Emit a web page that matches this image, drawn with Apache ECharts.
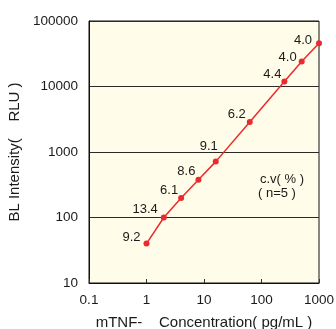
<!DOCTYPE html>
<html>
<head>
<meta charset="utf-8">
<script src="https://cdn.jsdelivr.net/npm/echarts@6/dist/echarts.min.js"></script>
<style>
  html, body { margin: 0; padding: 0; background: #fff; }
  #chart { width: 336px; height: 329px; }
</style>
</head>
<body>
<div id="chart"></div>
<script>
// concentration (pg/mL) vs BL intensity (RLU), c.v. in %
const concentration = [1, 2, 4, 8, 16, 62.5, 250, 500, 1000];
const intensity = [40, 100, 198, 377, 713, 2880, 11900, 24150, 45800];
const cvLabels = ['9.2', '13.4', '6.1', '8.6', '9.1', '6.2', '4.4', '4.0', '4.0'];
const xTickLabels = ['0.1', '1', '10', '100', '1000'];
const yTickLabels = ['10', '100', '1000', '10000', '100000'];

const font = 'Liberation Sans, Arial, sans-serif';
const red = '#ec2a2e';

// label nudges so each c.v. value sits up-left of its point
const labelOffsets = [
  [0, -6], [0, -8], [3, -8], [3, -8], [8, -15],
  [2, -7], [3, -7], [1, -4], [-1, -3]
];

const chart = echarts.init(document.getElementById('chart'));

const tickFmt = (labels, minExp) => (v) => {
  const i = Math.round(Math.log10(v)) - minExp;
  return labels[i] !== undefined ? labels[i] : '';
};

chart.setOption({
  animation: false,
  grid: {
    left: 89, right: 17, top: 21, bottom: 46,
    outerBoundsMode: 'none',
    containLabel: false,
    show: true,
    backgroundColor: '#fffce9',
    borderColor: '#111',
    borderWidth: 1
  },
  xAxis: {
    type: 'log',
    logBase: 10,
    min: 0.1,
    max: 1000,
    name: 'mTNF-    Concentration( pg/mL )',
    nameLocation: 'middle',
    nameGap: 32,
    nameTextStyle: { fontFamily: font, fontSize: 15, color: '#1a1a1a' },
    axisLine: { lineStyle: { color: '#111' } },
    axisTick: { show: true, inside: true, length: 4, lineStyle: { color: '#333' } },
    axisLabel: {
      formatter: tickFmt(xTickLabels, -1),
      fontFamily: font, fontSize: 13.5, color: '#1a1a1a', margin: 10
    },
    splitLine: { show: false }
  },
  yAxis: {
    type: 'log',
    logBase: 10,
    min: 10,
    max: 100000,
    name: 'BL Intensity(    RLU )',
    nameLocation: 'middle',
    nameGap: 60,
    nameRotate: 90,
    nameTextStyle: { fontFamily: font, fontSize: 15, color: '#1a1a1a' },
    axisLine: { lineStyle: { color: '#111' } },
    axisTick: { show: false },
    axisLabel: {
      formatter: tickFmt(yTickLabels, 1),
      fontFamily: font, fontSize: 13.5, color: '#1a1a1a', margin: 11
    },
    splitLine: { show: true, lineStyle: { color: '#2a2a2a', width: 1 } }
  },
  series: [{
    type: 'line',
    data: concentration.map((c, i) => ({
      value: [c, intensity[i]],
      label: { offset: labelOffsets[i] }
    })),
    symbol: 'circle',
    symbolSize: 6,
    lineStyle: { color: red, width: 1.5 },
    itemStyle: { color: red },
    label: {
      show: true,
      position: 'left',
      distance: 3,
      formatter: (p) => cvLabels[p.dataIndex],
      fontFamily: font,
      fontSize: 13,
      color: '#1a1a1a'
    }
  }],
  graphic: [
    {
      type: 'text', left: 260, top: 173,
      style: { text: 'c.v( % )', font: '13px ' + font, fill: '#1a1a1a' }
    },
    {
      type: 'text', left: 258, top: 187,
      style: { text: '( n=5 )', font: '13px ' + font, fill: '#1a1a1a' }
    }
  ]
});
</script>
</body>
</html>
